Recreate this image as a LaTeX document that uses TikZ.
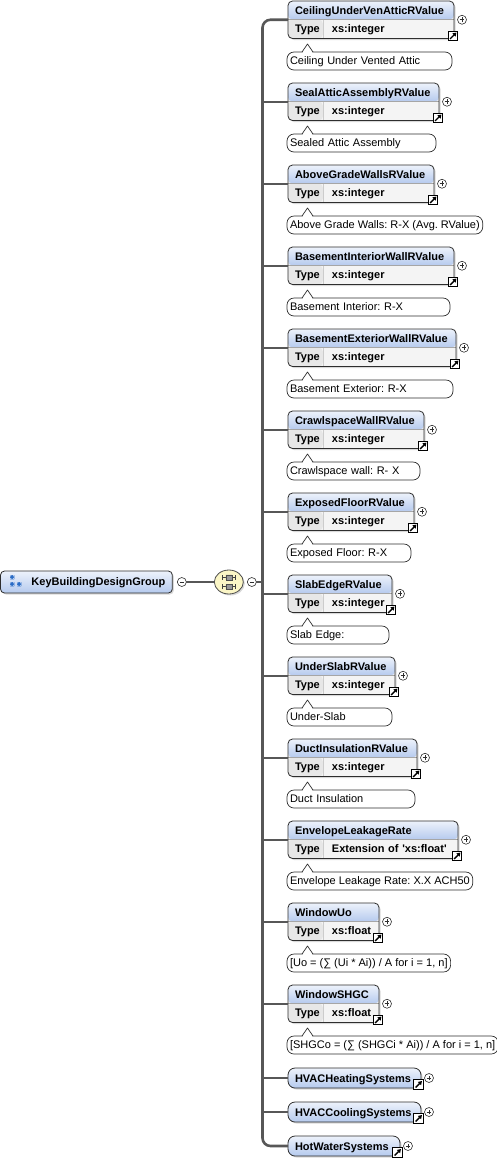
\documentclass[tikz,border=0pt]{standalone}
\usepackage{fontspec}
\setmainfont{Liberation Sans}
\usetikzlibrary{positioning,arrows.meta,shadows,shapes.geometric}

\definecolor{headtop}{HTML}{EDF2FB}
\definecolor{headbot}{HTML}{B5CAEE}
\definecolor{typegray}{HTML}{F4F4F4}
\definecolor{typecell}{HTML}{E7E7E7}
\definecolor{boxline}{HTML}{2E2E2E}
\definecolor{spinegray}{HTML}{575757}
\definecolor{seqyellow}{HTML}{FBF6C6}
\definecolor{groupblue}{HTML}{2A6CC6}

\frenchspacing
\hyphenpenalty=10000
\exhyphenpenalty=10000
\newcommand\typerow[1]{\makebox[37pt][l]{Type}#1}

\pgfdeclarelayer{front}
\pgfsetlayers{main,front}

\tikzset{
  shadowed/.style={drop shadow={shadow xshift=1.5pt, shadow yshift=-1.5pt, opacity=0.3}},
  expander/.style={circle, draw=boxline, fill=white, line width=0.6pt,
    minimum size=9pt, inner sep=0pt, outer sep=0pt},
  plus/.style={expander, path picture={
      \coordinate (pc) at (path picture bounding box.center);
      \draw[line width=0.7pt] ([xshift=-2.3pt]pc) -- ([xshift=2.3pt]pc)
                              ([yshift=-2.3pt]pc) -- ([yshift=2.3pt]pc);}},
  minus/.style={expander, path picture={
      \coordinate (pc) at (path picture bounding box.center);
      \draw[line width=0.7pt] ([xshift=-2.3pt]pc) -- ([xshift=2.3pt]pc);}},
  linkicon/.style={rectangle, draw=black, fill=white, line width=0.8pt,
    minimum size=9.5pt, inner sep=0pt, path picture={
      \draw[line width=1.4pt, -{Triangle[length=3.6pt,width=4.4pt]}]
        ([shift={(1.8pt,1.8pt)}]path picture bounding box.south west)
        -- ([shift={(-1.3pt,-1.3pt)}]path picture bounding box.north east);}},
  elem/.style={rectangle, draw=boxline, line width=0.8pt, rounded corners=4.5pt,
    fill=typegray, shadowed, anchor=north west, outer sep=0pt,
    inner xsep=7pt, inner ysep=0pt, text height=13pt, text depth=24.5pt,
    align=left, font=\fontsize{11}{18.3}\selectfont\bfseries,
    path picture={
      \coordinate (pp) at (path picture bounding box.north west);
      \shade[top color=headtop, bottom color=headbot] (pp)
        rectangle ([yshift=-18.5pt]path picture bounding box.north east);
      \fill[typecell] ([yshift=-18.5pt]pp)
        rectangle ([xshift=35pt]path picture bounding box.south west);
      \draw[line width=0.5pt, black!35] ([yshift=-18.5pt]pp)
        -- ([yshift=-18.5pt]path picture bounding box.north east);
      \draw[line width=0.5pt, black!20] ([shift={(35pt,-18.5pt)}]pp)
        -- ([xshift=35pt]path picture bounding box.south west);},
    append after command={\pgfextra{\edef\elnode{\tikzlastnode}
      \begin{pgfonlayer}{front}
      \node[plus] (\elnode-more) at ([xshift=8pt]\elnode.east) {};
      \node[linkicon] (\elnode-link) at ([shift={(-1pt,2.5pt)}]\elnode.south east) {};
      \end{pgfonlayer}}}},
  elemref/.style={rectangle, draw=boxline, line width=0.8pt, rounded corners=7pt,
    top color=headtop, bottom color=headbot, shadowed, anchor=north west, outer sep=0pt,
    inner xsep=7pt, inner ysep=0pt, text height=14pt, text depth=6pt,
    align=left, font=\fontsize{11}{13}\selectfont\bfseries,
    append after command={\pgfextra{\edef\elnode{\tikzlastnode}
      \begin{pgfonlayer}{front}
      \node[plus] (\elnode-more) at ([xshift=8pt]\elnode.east) {};
      \node[linkicon] (\elnode-link) at ([shift={(-2.5pt,3.5pt)}]\elnode.south east) {};
      \end{pgfonlayer}}}},
  doc/.style={rectangle, draw=boxline, line width=0.7pt, fill=white, rounded corners=7pt,
    outer sep=0pt, inner xsep=3pt, inner ysep=0pt, text height=12pt, text depth=6pt,
    align=left,
    append after command={\pgfextra{\edef\docnode{\tikzlastnode}
      \begin{pgfonlayer}{front}
      \fill[white] ([shift={(15.5pt,-0.8pt)}]\docnode.north west)
        -- ++(5pt,8.8pt) -- ++(5pt,-8.8pt) -- cycle;
      \draw[boxline, line width=0.7pt, line join=round] ([xshift=15pt]\docnode.north west)
        -- ++(5.5pt,8pt) -- ++(5.5pt,-8pt);
      \end{pgfonlayer}}}},
  groupbox/.style={rectangle, draw=boxline, line width=0.8pt, rounded corners=4pt,
    top color=headtop, bottom color=headbot, shadowed, anchor=north west, outer sep=0pt,
    inner xsep=7pt, inner ysep=0pt, text height=14pt, text depth=8pt,
    font=\fontsize{11}{13}\selectfont\bfseries,
    path picture={
      \coordinate (pw) at (path picture bounding box.west);
      \fill[groupblue] ([shift={(9.5pt,7pt)}]pw) rectangle ++(4.3pt,-4.3pt)
                       ([shift={(9.5pt,0pt)}]pw) rectangle ++(4.3pt,-4.3pt)
                       ([shift={(16.5pt,0pt)}]pw) rectangle ++(4.3pt,-4.3pt);}},
  sequence/.style={ellipse, draw=boxline!85, line width=0.8pt, fill=seqyellow, shadowed,
    minimum width=29pt, minimum height=24pt, inner sep=0pt, outer sep=0pt,
    path picture={
      \coordinate (pc) at (path picture bounding box.center);
      \draw[line width=0.6pt, black!75]
        ([shift={(-6.5pt,4.75pt)}]pc) -- ++(13pt,0pt)
        ([shift={(-6.5pt,-4.75pt)}]pc) -- ++(13pt,0pt)
        ([shift={(-6.5pt,2.25pt)}]pc) -- ++(0pt,5pt)
        ([shift={(6.5pt,2.25pt)}]pc) -- ++(0pt,5pt)
        ([shift={(-6.5pt,-7.25pt)}]pc) -- ++(0pt,5pt)
        ([shift={(6.5pt,-7.25pt)}]pc) -- ++(0pt,5pt);
      \draw[line width=0.5pt, fill=black!40]
        ([shift={(-3pt,2.25pt)}]pc) rectangle ++(6pt,5pt)
        ([shift={(-3pt,-7.25pt)}]pc) rectangle ++(6pt,5pt);}},
  spineline/.style={draw=spinegray, line width=2.6pt, rounded corners=8pt},
  branch/.style={draw=spinegray, line width=2pt}
}

\begin{document}
\begin{tikzpicture}[x=1pt, y=-1pt, font=\fontsize{11}{13}\selectfont]
\useasboundingbox (0,0) rectangle (497,1160);

% group and its sequence
\node[groupbox] (keygroup) at (0.5,571) {\hspace*{24pt}KeyBuildingDesignGroup};
\node[minus, right=5pt of keygroup] (groupminus) {};
\node[sequence, right=28pt of groupminus] (seq) {};
\node[minus, right=4pt of seq] (seqminus) {};
\coordinate (spine) at (262.5,582);

% child elements
\node[elem, text width=152pt] (ceiling) at (288,1)
  {CeilingUnderVenAtticRValue\\\typerow{xs:integer}};
\node[doc, text width=159pt, below right=13.5pt and -1pt of ceiling.south west] (ceilingdoc)
  {Ceiling Under Vented Attic};

\node[elem, text width=137pt, below right=13pt and 1pt of ceilingdoc.south west] (sealattic)
  {SealAtticAssemblyRValue\\\typerow{xs:integer}};
\node[doc, text width=143pt, below right=13.5pt and -1pt of sealattic.south west] (sealatticdoc)
  {Sealed Attic Assembly};

\node[elem, text width=132pt, below right=13pt and 1pt of sealatticdoc.south west] (abovegrade)
  {AboveGradeWallsRValue\\\typerow{xs:integer}};
\node[doc, below right=13.5pt and -1pt of abovegrade.south west] (abovegradedoc)
  {Above Grade Walls: R-X (Avg. RValue)};

\node[elem, text width=152pt, below right=13pt and 1pt of abovegradedoc.south west] (basementint)
  {BasementInteriorWallRValue\\\typerow{xs:integer}};
\node[doc, text width=157pt, below right=13.5pt and -1pt of basementint.south west] (basementintdoc)
  {Basement Interior: R-X};

\node[elem, text width=154pt, below right=13pt and 1pt of basementintdoc.south west] (basementext)
  {BasementExteriorWallRValue\\\typerow{xs:integer}};
\node[doc, text width=160pt, below right=13.5pt and -1pt of basementext.south west] (basementextdoc)
  {Basement Exterior: R-X};

\node[elem, text width=122pt, below right=13pt and 1pt of basementextdoc.south west] (crawlspace)
  {CrawlspaceWallRValue\\\typerow{xs:integer}};
\node[doc, text width=127pt, below right=13.5pt and -1pt of crawlspace.south west] (crawlspacedoc)
  {Crawlspace wall: R- X};

\node[elem, text width=112pt, below right=13pt and 1pt of crawlspacedoc.south west] (exposedfloor)
  {ExposedFloorRValue\\\typerow{xs:integer}};
\node[doc, text width=118pt, below right=13.5pt and -1pt of exposedfloor.south west] (exposedfloordoc)
  {Exposed Floor: R-X};

\node[elem, text width=90pt, below right=13pt and 1pt of exposedfloordoc.south west] (slabedge)
  {SlabEdgeRValue\\\typerow{xs:integer}};
\node[doc, text width=96pt, below right=13.5pt and -1pt of slabedge.south west] (slabedgedoc)
  {Slab Edge:};

\node[elem, text width=93pt, below right=13pt and 1pt of slabedgedoc.south west] (underslab)
  {UnderSlabRValue\\\typerow{xs:integer}};
\node[doc, text width=99pt, below right=13.5pt and -1pt of underslab.south west] (underslabdoc)
  {Under-Slab};

\node[elem, text width=115pt, below right=13pt and 1pt of underslabdoc.south west] (duct)
  {DuctInsulationRValue\\\typerow{xs:integer}};
\node[doc, text width=122pt, below right=13.5pt and -1pt of duct.south west] (ductdoc)
  {Duct Insulation};

\node[elem, text width=156pt, below right=13pt and 1pt of ductdoc.south west] (envelope)
  {EnvelopeLeakageRate\\\typerow{Extension of \textquotesingle xs:float\textquotesingle}};
\node[doc, below right=13.5pt and -1pt of envelope.south west] (envelopedoc)
  {Envelope Leakage Rate: X.X ACH50};

\node[elem, text width=77pt, below right=13pt and 1pt of envelopedoc.south west] (windowuo)
  {WindowUo\\\typerow{xs:float}};
\node[doc, below right=13.5pt and -1pt of windowuo.south west] (windowuodoc)
  {[Uo = (∑ (Ui * Ai)) / A for i = 1, n]};

\node[elem, text width=77pt, below right=13pt and 1pt of windowuodoc.south west] (windowshgc)
  {WindowSHGC\\\typerow{xs:float}};
\node[doc, below right=13.5pt and -1pt of windowshgc.south west] (windowshgcdoc)
  {[SHGCo = (∑ (SHGCi * Ai)) / A for i = 1, n]};

\node[elemref, text width=119pt, below right=14pt and 1pt of windowshgcdoc.south west] (heating)
  {HVACHeatingSystems};
\node[elemref, text width=119pt, below right=14pt and 0pt of heating.south west] (cooling)
  {HVACCoolingSystems};
\node[elemref, text width=98pt, below right=14pt and 0pt of cooling.south west] (hotwater)
  {HotWaterSystems};

% connectors
\draw[branch] (groupminus.east) -- (seq.west);
\draw[branch] (seqminus.east) -- (spine);
\draw[spineline] (ceiling.west) -| (spine) |- (hotwater.west);
\draw[branch] (spine |- sealattic.west) -- (sealattic.west);
\draw[branch] (spine |- abovegrade.west) -- (abovegrade.west);
\draw[branch] (spine |- basementint.west) -- (basementint.west);
\draw[branch] (spine |- basementext.west) -- (basementext.west);
\draw[branch] (spine |- crawlspace.west) -- (crawlspace.west);
\draw[branch] (spine |- exposedfloor.west) -- (exposedfloor.west);
\draw[branch] (spine |- slabedge.west) -- (slabedge.west);
\draw[branch] (spine |- underslab.west) -- (underslab.west);
\draw[branch] (spine |- duct.west) -- (duct.west);
\draw[branch] (spine |- envelope.west) -- (envelope.west);
\draw[branch] (spine |- windowuo.west) -- (windowuo.west);
\draw[branch] (spine |- windowshgc.west) -- (windowshgc.west);
\draw[branch] (spine |- heating.west) -- (heating.west);
\draw[branch] (spine |- cooling.west) -- (cooling.west);

\end{tikzpicture}
\end{document}
